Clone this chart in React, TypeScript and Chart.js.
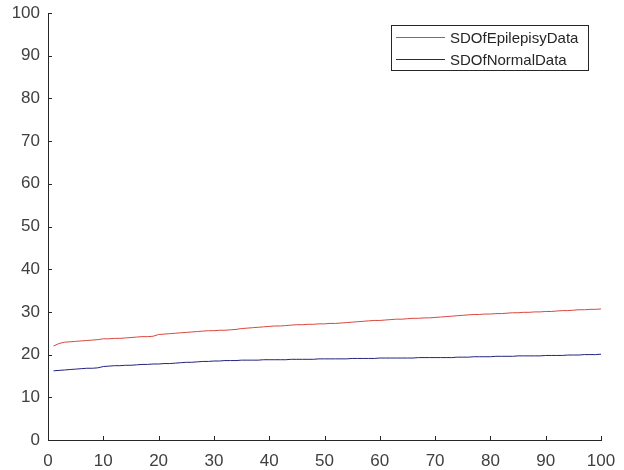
import React, { useEffect, useRef } from "react";
import { Chart, registerables } from "chart.js";

Chart.register(...registerables);

const xValues: number[] = Array.from({ length: 100 }, (_, i) => i + 1);

const epilepsySD: number[] = [
  22.0, 22.6, 22.9, 23.0, 23.1, 23.2, 23.3, 23.4, 23.5, 23.7,
  23.7, 23.8, 23.8, 23.9, 24.0, 24.1, 24.2, 24.2, 24.3, 24.7,
  24.8, 24.9, 25.0, 25.1, 25.2, 25.3, 25.4, 25.5, 25.6, 25.6,
  25.7, 25.7, 25.8, 25.9, 26.1, 26.2, 26.3, 26.4, 26.5, 26.6,
  26.7, 26.7, 26.8, 26.9, 27.0, 27.0, 27.1, 27.1, 27.2, 27.2,
  27.3, 27.3, 27.4, 27.5, 27.6, 27.7, 27.8, 27.9, 28.0, 28.0,
  28.1, 28.2, 28.3, 28.3, 28.4, 28.5, 28.5, 28.6, 28.6, 28.7,
  28.8, 28.9, 29.0, 29.1, 29.2, 29.3, 29.4, 29.4, 29.5, 29.5,
  29.6, 29.6, 29.7, 29.8, 29.8, 29.9, 29.9, 30.0, 30.0, 30.1,
  30.1, 30.2, 30.3, 30.3, 30.4, 30.5, 30.5, 30.6, 30.6, 30.7,
];

const normalSD: number[] = [
  16.2, 16.3, 16.4, 16.5, 16.6, 16.7, 16.8, 16.8, 16.9, 17.2,
  17.3, 17.4, 17.4, 17.5, 17.5, 17.6, 17.7, 17.7, 17.8, 17.8,
  17.9, 17.9, 18.0, 18.1, 18.2, 18.2, 18.3, 18.4, 18.4, 18.5,
  18.5, 18.6, 18.6, 18.6, 18.7, 18.7, 18.7, 18.7, 18.8, 18.8,
  18.8, 18.8, 18.8, 18.9, 18.9, 18.9, 18.9, 18.9, 19.0, 19.0,
  19.0, 19.0, 19.0, 19.0, 19.1, 19.1, 19.1, 19.1, 19.1, 19.2,
  19.2, 19.2, 19.2, 19.2, 19.2, 19.2, 19.3, 19.3, 19.3, 19.3,
  19.3, 19.3, 19.3, 19.4, 19.4, 19.4, 19.5, 19.5, 19.5, 19.5,
  19.6, 19.6, 19.6, 19.6, 19.7, 19.7, 19.7, 19.7, 19.7, 19.8,
  19.8, 19.8, 19.8, 19.9, 19.9, 19.9, 20.0, 20.0, 20.0, 20.1,
];

const seriesNames: string[] = ["SDOfEpilepisyData", "SDOfNormalData"];
const seriesColors: string[] = ["#d9473e", "#23237e"];

const FONT = "'Liberation Sans', Arial, sans-serif";

const insideTicksAndLegend = {
  id: "insideTicksAndLegend",
  afterDraw(chart: any) {
    const ctx = chart.ctx;
    const x = chart.scales.x;
    const y = chart.scales.y;
    const area = chart.chartArea;
    ctx.save();
    ctx.strokeStyle = "#262626";
    ctx.lineWidth = 1;
    ctx.beginPath();
    x.ticks.forEach((t: any) => {
      const px = Math.round(x.getPixelForValue(t.value)) + 0.5;
      ctx.moveTo(px, area.bottom);
      ctx.lineTo(px, area.bottom - 4);
    });
    y.ticks.forEach((t: any) => {
      const py = Math.round(y.getPixelForValue(t.value)) + 0.5;
      ctx.moveTo(area.left, py);
      ctx.lineTo(area.left + 4, py);
    });
    ctx.stroke();

    // legend box
    const bx = 391.5, by = 25.5, bw = 197, bh = 45;
    ctx.fillStyle = "#ffffff";
    ctx.fillRect(bx, by, bw, bh);
    ctx.strokeStyle = "#262626";
    ctx.strokeRect(bx, by, bw, bh);
    ctx.font = `15px ${FONT}`;
    ctx.textBaseline = "middle";
    ctx.textAlign = "left";
    const rows = [37.5, 59.5];
    seriesNames.forEach((name, i) => {
      ctx.strokeStyle = seriesColors[i];
      ctx.beginPath();
      ctx.moveTo(396, rows[i]);
      ctx.lineTo(445, rows[i]);
      ctx.stroke();
      ctx.fillStyle = "#262626";
      ctx.fillText(name, 450, rows[i] + 1);
    });
    ctx.restore();
  },
};

export default function App() {
  const ref = useRef<HTMLCanvasElement | null>(null);

  useEffect(() => {
    document.body.style.margin = "0";
    const canvas = ref.current;
    if (!canvas) return;
    const chart = new Chart(canvas, {
      type: "line",
      data: {
        datasets: [
          {
            label: seriesNames[0],
            data: xValues.map((v, i) => ({ x: v, y: epilepsySD[i] })),
            borderColor: seriesColors[0],
            borderWidth: 1,
            pointRadius: 0,
            tension: 0,
          },
          {
            label: seriesNames[1],
            data: xValues.map((v, i) => ({ x: v, y: normalSD[i] })),
            borderColor: seriesColors[1],
            borderWidth: 1,
            pointRadius: 0,
            tension: 0,
          },
        ],
      },
      options: {
        animation: false,
        responsive: false,
        maintainAspectRatio: false,
        layout: { padding: { top: 13, right: 23, left: 0, bottom: 0 } },
        plugins: {
          legend: { display: false },
          tooltip: { enabled: false },
        },
        scales: {
          x: {
            type: "linear",
            min: 0,
            max: 100,
            grid: { display: false, drawTicks: false },
            border: { display: true, color: "#262626", width: 1 },
            ticks: {
              stepSize: 10,
              padding: 11,
              color: "#404040",
              font: { family: FONT, size: 17 },
              maxRotation: 0,
            },
            afterFit: (s: any) => {
              s.height = 30;
              s.paddingLeft = 0;
              s.paddingRight = 0;
            },
          },
          y: {
            type: "linear",
            min: 0,
            max: 100,
            grid: { display: false, drawTicks: false },
            border: { display: true, color: "#262626", width: 1 },
            ticks: {
              stepSize: 10,
              padding: 8,
              color: "#404040",
              font: { family: FONT, size: 17 },
            },
            afterFit: (s: any) => {
              s.width = 48;
              s.paddingTop = 0;
              s.paddingBottom = 0;
            },
          },
        },
      },
      plugins: [insideTicksAndLegend],
    });
    return () => chart.destroy();
  }, []);

  return (
    <div style={{ position: "fixed", left: 0, top: 0, width: 624, height: 470, background: "#fff" }}>
      <canvas ref={ref} width={624} height={470} style={{ width: 624, height: 470 }} />
    </div>
  );
}
